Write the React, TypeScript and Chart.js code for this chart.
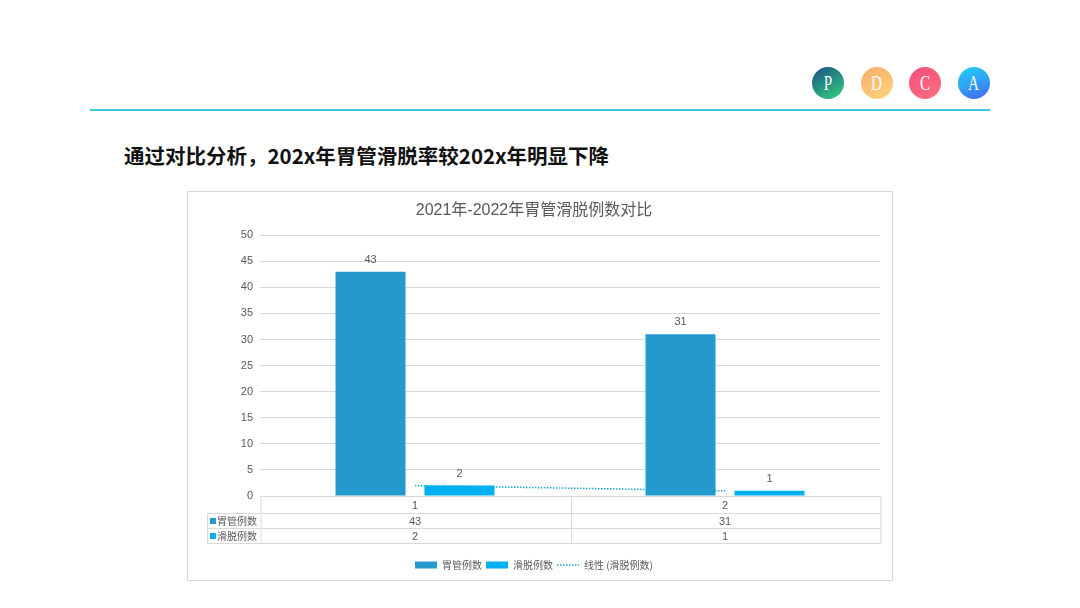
import React, { useEffect, useRef } from "react";
import { Chart, registerables } from "chart.js";

Chart.register(...registerables);

// ---- data ----
const categories = ["1", "2"];
const tubeCases = [43, 31];
const slipCases = [2, 1];
const slipTrend = [2, 1];
const seriesNames = ["胃管例数", "滑脱例数", "线性 (滑脱例数)"];
const yMin = 0;
const yMax = 50;
const yStep = 5;
const chartTitle = "2021年-2022年胃管滑脱例数对比";
const heading = "通过对比分析，202x年胃管滑脱率较202x年明显下降";
const pdcaLetters = ["P", "D", "C", "A"];

// ---- styles ----
const TUBE = "#2499CE";
const SLIP = "#00B0F0";
const TREND = "#1AA9DC";
const TEXT = "#595959";
const GRID = "#D9D9D9";
const FONT = "'Liberation Sans', 'Noto Sans CJK SC', sans-serif";
const pdcaGradients = [
  "linear-gradient(150deg, #1F4F8A 0%, #268A84 45%, #34D37A 100%)",
  "linear-gradient(150deg, #F8AC66 0%, #FCC374 55%, #FED67F 100%)",
  "linear-gradient(150deg, #F4507E 0%, #FA5F7E 55%, #FF737C 100%)",
  "linear-gradient(160deg, #22D0F8 0%, #2FA2F4 50%, #4660EE 100%)",
];

const dataLabelPlugin = {
  id: "barValueLabels",
  afterDatasetsDraw(chart: any) {
    const { ctx } = chart;
    ctx.save();
    ctx.font = `11px ${FONT}`;
    ctx.fillStyle = TEXT;
    ctx.textAlign = "center";
    ctx.textBaseline = "middle";
    chart.data.datasets.forEach((ds: any, di: number) => {
      if (ds.type === "line") return;
      const meta = chart.getDatasetMeta(di);
      meta.data.forEach((el: any, i: number) => {
        ctx.fillText(String(ds.data[i]), el.x, el.y - 12);
      });
    });
    ctx.restore();
  },
};

const dataTablePlugin = {
  id: "dataTable",
  afterDraw(chart: any) {
    const { ctx, chartArea } = chart;
    const xs = chart.scales.x;
    const top = Math.round(chartArea.bottom) + 0.5;
    const y1 = top + 17;
    const y2 = y1 + 15;
    const y3 = y2 + 15;
    const labelLeft = 19.5;
    const left = Math.round(chartArea.left) + 0.5;
    const right = Math.round(chartArea.right) + 0.5;
    const n = categories.length;
    const bounds: number[] = [];
    for (let i = 0; i <= n; i++) bounds.push(Math.round(left + ((right - left) * i) / n) + 0.5 - (i === 0 || i === n ? 0.5 : 0));
    ctx.save();
    ctx.strokeStyle = GRID;
    ctx.lineWidth = 1;
    const line = (a: number, b: number, c: number, d: number) => {
      ctx.beginPath();
      ctx.moveTo(a, b);
      ctx.lineTo(c, d);
      ctx.stroke();
    };
    line(left, top, right, top);
    line(labelLeft, y1, right, y1);
    line(labelLeft, y2, right, y2);
    line(labelLeft, y3, right, y3);
    bounds.forEach((bx) => line(bx, top, bx, y3));
    line(labelLeft, y1, labelLeft, y3);

    const rows = [
      { name: seriesNames[0], color: TUBE, values: tubeCases },
      { name: seriesNames[1], color: SLIP, values: slipCases },
    ];
    const rowCenters = [(y1 + y2) / 2, (y2 + y3) / 2];
    ctx.textBaseline = "middle";
    rows.forEach((r, ri) => {
      const cy = rowCenters[ri];
      ctx.fillStyle = r.color;
      ctx.fillRect(22, cy - 3, 6, 6);
      ctx.fillStyle = TEXT;
      ctx.font = `10px 'Noto Sans CJK SC', sans-serif`;
      ctx.textAlign = "left";
      ctx.fillText(r.name, 29, cy + 0.5);
      ctx.font = `11px ${FONT}`;
      ctx.textAlign = "center";
      r.values.forEach((v, i) => {
        ctx.fillText(String(v), xs.getPixelForValue(i), cy + 0.5);
      });
    });
    ctx.restore();
  },
};

function ChartBox() {
  const ref = useRef<HTMLCanvasElement | null>(null);
  useEffect(() => {
    if (!ref.current) return;
    const chart = new Chart(ref.current, {
      type: "bar",
      data: {
        labels: categories,
        datasets: [
          {
            type: "bar",
            label: seriesNames[0],
            data: tubeCases,
            backgroundColor: TUBE,
            borderWidth: 0,
            categoryPercentage: 0.574,
            barPercentage: 0.787,
            order: 1,
          } as any,
          {
            type: "bar",
            label: seriesNames[1],
            data: slipCases,
            backgroundColor: SLIP,
            borderWidth: 0,
            categoryPercentage: 0.574,
            barPercentage: 0.787,
            order: 2,
          } as any,
          {
            type: "line",
            label: seriesNames[2],
            data: slipTrend,
            borderColor: TREND,
            borderWidth: 1.5,
            borderDash: [1.5, 1.5],
            pointRadius: 0,
            fill: false,
            order: 3,
          } as any,
        ],
      },
      options: {
        animation: false,
        responsive: false,
        maintainAspectRatio: false,
        layout: { padding: { left: 0, right: 12, top: 0, bottom: 0 } },
        plugins: {
          title: {
            display: true,
            text: chartTitle,
            color: TEXT,
            font: { family: FONT, size: 16, weight: "normal" },
            padding: { top: 9, bottom: 15 },
          },
          legend: {
            display: true,
            position: "bottom",
            labels: {
              usePointStyle: true,
              pointStyleWidth: 22,
              boxHeight: 7,
              padding: 4,
              color: TEXT,
              font: { family: "'Noto Sans CJK SC', sans-serif", size: 10 },
              generateLabels: () => [
                { text: seriesNames[0], fillStyle: TUBE, strokeStyle: TUBE, lineWidth: 0, pointStyle: "rect", datasetIndex: 0, hidden: false, fontColor: TEXT },
                { text: seriesNames[1], fillStyle: SLIP, strokeStyle: SLIP, lineWidth: 0, pointStyle: "rect", datasetIndex: 1, hidden: false, fontColor: TEXT },
                { text: seriesNames[2], fillStyle: "rgba(0,0,0,0)", strokeStyle: TREND, lineWidth: 1.5, lineDash: [1.5, 1.5], pointStyle: "line", datasetIndex: 2, hidden: false, fontColor: TEXT },
              ] as any,
            },
          },
          tooltip: { enabled: false },
        },
        scales: {
          x: {
            grid: { display: false, drawTicks: false },
            border: { display: false },
            ticks: { color: TEXT, font: { family: FONT, size: 11 }, padding: 3 },
            afterFit: (s: any) => {
              s.height = 60;
            },
          },
          y: {
            min: yMin,
            max: yMax,
            grid: { color: GRID, drawTicks: false },
            border: { display: false },
            ticks: { stepSize: yStep, color: TEXT, font: { family: FONT, size: 11 }, padding: 7 },
            afterFit: (s: any) => {
              s.width = 72;
            },
          },
        },
      },
      plugins: [dataLabelPlugin, dataTablePlugin],
    });
    return () => chart.destroy();
  }, []);
  return <canvas ref={ref} width={704} height={388} style={{ display: "block", width: 704, height: 388 }} />;
}

export default function App() {
  return (
    <div style={{ position: "absolute", left: 0, top: 0, width: 1080, height: 608, background: "#fff", overflow: "hidden" }}>
      {pdcaLetters.map((l, i) => (
        <div
          key={l}
          style={{
            position: "absolute",
            left: 812 + i * 48.5,
            top: 67,
            width: 32,
            height: 32,
            borderRadius: "50%",
            background: pdcaGradients[i],
            color: "#fff",
            display: "flex",
            alignItems: "center",
            justifyContent: "center",
            fontFamily: "'Liberation Serif', 'DejaVu Serif', serif",
            fontSize: 21,
            lineHeight: 1,
          }}
        >
          <span style={{ display: "inline-block", transform: "scaleX(0.72)" }}>{l}</span>
        </div>
      ))}
      <div style={{ position: "absolute", left: 90, top: 109, width: 900, height: 2, background: "#3EC6DA" }} />
      <div
        style={{
          position: "absolute",
          left: 124,
          top: 143,
          fontFamily: "'Noto Sans CJK SC', sans-serif",
          fontWeight: 700,
          fontSize: 20.5,
          lineHeight: "24px",
          color: "#111",
          whiteSpace: "nowrap",
        }}
      >
        {heading}
      </div>
      <div
        style={{
          position: "absolute",
          left: 187,
          top: 191,
          width: 706,
          height: 390,
          boxSizing: "border-box",
          border: "1px solid #D9D9D9",
        }}
      >
        <ChartBox />
      </div>
    </div>
  );
}
